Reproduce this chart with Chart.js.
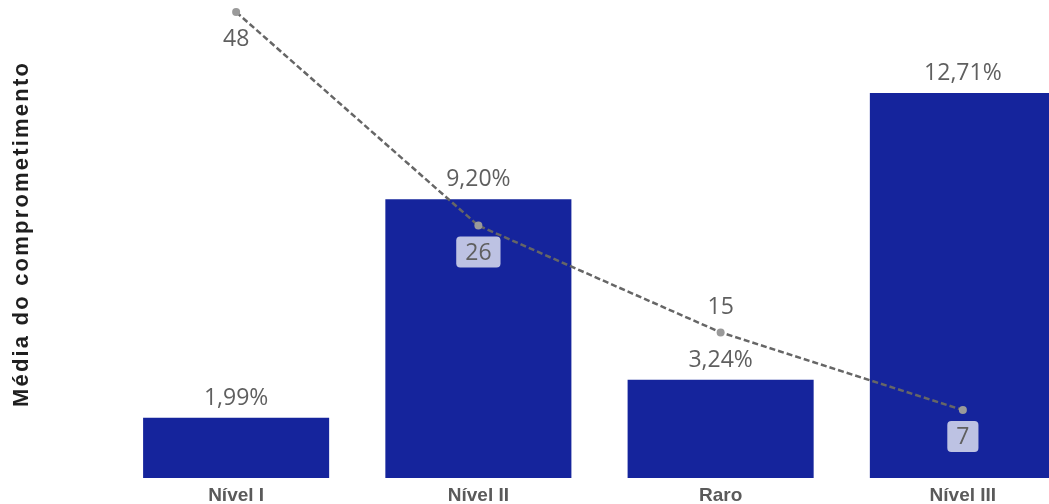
<!DOCTYPE html>
<html lang="pt-BR">
<head>
<meta charset="utf-8">
<title>Média do comprometimento por nível</title>
<script src="https://cdn.jsdelivr.net/npm/chart.js@4/dist/chart.umd.min.js"></script>
<style>
  html, body { margin: 0; padding: 0; background: #ffffff; overflow: hidden; }
  #wrap { position: relative; width: 1084px; height: 504px; }
</style>
</head>
<body>
<div id="wrap"><canvas id="chart"></canvas></div>
<script>
// Categories and series
const categories = ['Nível I', 'Nível II', 'Raro', 'Nível III'];
const commitmentPct = [1.99, 9.20, 3.24, 12.71];   // média do comprometimento (%)
const counts = [48, 26, 15, 7];                      // quantidade

// Axis ranges (both axes share the same zero line)
const pctAxisMax = 15.78;
const countAxisMax = 49.24;

// Where each count label sits relative to its point
const countLabelSide = ['below', 'below', 'above', 'below'];

const fmtPct = v => v.toFixed(2).replace('.', ',') + '%';

const valueFont = '23px "Open Sans", "Noto Sans", sans-serif';
const valueColor = '#5f5f5f';

// Percent labels above the bars
const barLabels = {
  id: 'barLabels',
  afterDatasetsDraw(chart) {
    const ctx = chart.ctx;
    const meta = chart.getDatasetMeta(0);
    ctx.save();
    ctx.font = valueFont;
    ctx.fillStyle = valueColor;
    ctx.textAlign = 'center';
    ctx.textBaseline = 'alphabetic';
    meta.data.forEach((bar, i) => {
      ctx.fillText(fmtPct(commitmentPct[i]), bar.x, bar.y - 13);
    });
    ctx.restore();
  }
};

// Count labels next to the line points; labels that land on a bar get a light box
const lineLabels = {
  id: 'lineLabels',
  afterDraw(chart) {
    const ctx = chart.ctx;
    const lineMeta = chart.getDatasetMeta(1);
    const barMeta = chart.getDatasetMeta(0);
    ctx.save();
    ctx.font = valueFont;
    ctx.textAlign = 'center';
    ctx.textBaseline = 'alphabetic';
    lineMeta.data.forEach((pt, i) => {
      const text = String(counts[i]);
      const below = countLabelSide[i] === 'below';
      const baseline = below ? pt.y + 34 : pt.y - 18;
      const bar = barMeta.data[i];
      const boxTop = baseline - 23, boxBottom = baseline + 8;
      const onBar = below && boxTop > bar.y && boxBottom < bar.base;
      if (onBar) {
        const w = ctx.measureText(text).width + 18;
        ctx.fillStyle = 'rgba(255,255,255,0.72)';
        ctx.beginPath();
        ctx.roundRect(pt.x - w / 2, boxTop, w, boxBottom - boxTop, 4);
        ctx.fill();
      }
      ctx.fillStyle = valueColor;
      ctx.fillText(text, pt.x, baseline);
    });
    ctx.restore();
  }
};

// Vertical axis title
const axisTitle = {
  id: 'axisTitle',
  afterDraw(chart) {
    const ctx = chart.ctx;
    const area = chart.chartArea;
    ctx.save();
    ctx.translate(22, (area.top + area.bottom) / 2 - 5);
    ctx.rotate(-Math.PI / 2);
    ctx.font = 'bold 22px "Liberation Sans", Arial, sans-serif';
    ctx.letterSpacing = '2.2px';
    ctx.fillStyle = '#1f1f1f';
    ctx.textAlign = 'center';
    ctx.textBaseline = 'middle';
    ctx.fillText('Média do comprometimento', 0, 0);
    ctx.restore();
  }
};

new Chart(document.getElementById('chart'), {
  type: 'bar',
  data: {
    labels: categories,
    datasets: [
      {
        type: 'bar',
        label: 'Média do comprometimento',
        data: commitmentPct,
        backgroundColor: '#15249c',
        borderWidth: 0,
        categoryPercentage: 1,
        barPercentage: 0.768,
        yAxisID: 'y',
        order: 1
      },
      {
        type: 'line',
        label: 'Quantidade',
        data: counts,
        borderColor: '#666666',
        borderWidth: 2.5,
        borderDash: [6, 3],
        pointRadius: 4,
        pointBackgroundColor: '#9a9a9a',
        pointBorderWidth: 0,
        tension: 0,
        fill: false,
        yAxisID: 'y1',
        order: 0
      }
    ]
  },
  options: {
    responsive: true,
    maintainAspectRatio: false,
    animation: false,
    layout: { autoPadding: false, padding: { left: 115, top: 0, right: 0, bottom: 0 } },
    plugins: {
      legend: { display: false },
      tooltip: { enabled: false }
    },
    scales: {
      x: {
        grid: { display: false, drawTicks: false },
        border: { display: false },
        ticks: {
          color: '#5a5a5a',
          font: { family: '"Liberation Sans", Arial, sans-serif', size: 19, weight: 'bold' },
          padding: 6,
          maxRotation: 0
        },
        afterFit(scale) { scale.height = 26; }
      },
      y: {
        display: false,
        min: 0,
        max: pctAxisMax
      },
      y1: {
        display: false,
        position: 'right',
        min: 0,
        max: countAxisMax
      }
    }
  },
  plugins: [barLabels, lineLabels, axisTitle]
});
</script>
</body>
</html>
